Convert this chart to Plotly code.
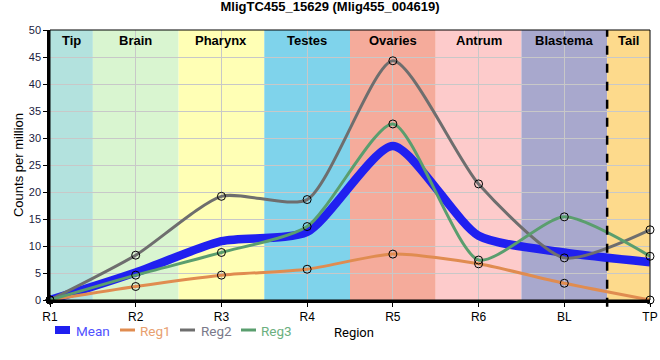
import plotly.graph_objects as go

regions = ["R1", "R2", "R3", "R4", "R5", "R6", "BL", "TP"]
mean_vals = [0.0, 5.1, 10.9, 12.6, 28.5, 11.9, 8.8, 7.0]
reg1 = [0.0, 2.5, 4.6, 5.7, 8.5, 6.7, 3.1, 0.0]
reg2 = [0.0, 8.3, 19.2, 18.6, 44.3, 21.5, 7.8, 13.0]
reg3 = [0.0, 4.6, 8.8, 13.6, 32.6, 7.4, 15.4, 8.1]

band_names = ["Tip", "Brain", "Pharynx", "Testes", "Ovaries", "Antrum", "Blastema", "Tail"]
band_starts = [0, 0.5, 1.5, 2.5, 3.5, 4.5, 5.5, 6.5]
band_ends = [0.5, 1.5, 2.5, 3.5, 4.5, 5.5, 6.5, 7]
band_colors = ["#B3E2DE", "#D9F5D0", "#FFFFB5", "#7FD3EB", "#F5AB9B", "#FDCBCB", "#A8A8CD", "#FDDA8C"]

xs = list(range(len(regions)))
FONT = "Liberation Sans, Arial, sans-serif"
LFONT = "Roboto, sans-serif"

# plot area in pixels
L, R, T, B = 50, 10, 30, 60
W, H = 660, 360
PW, PH = W - L - R, H - T - B


def px(xp):
    return (xp - L) / PW


def py(yp):
    return (H - B - yp) / PH


fig = go.Figure()

SMOOTH = 0.65
fig.add_trace(go.Scatter(
    x=xs, y=mean_vals, mode="lines", name="Mean", showlegend=False,
    line=dict(color="#2020F0", width=8.5, shape="spline", smoothing=SMOOTH),
    cliponaxis=False,
))

series = [
    ("Reg1", reg1, "#E08C50"),
    ("Reg2", reg2, "#6E6E6E"),
    ("Reg3", reg3, "#5A9E6E"),
]
for name, vals, col in series:
    fig.add_trace(go.Scatter(
        x=xs, y=vals, mode="lines+markers", name=name, showlegend=False,
        line=dict(color=col, width=3, shape="spline", smoothing=SMOOTH),
        marker=dict(size=8, color="rgba(0,0,0,0)", line=dict(color="black", width=1)),
        cliponaxis=False,
    ))

shapes = []
for s, e, c in zip(band_starts, band_ends, band_colors):
    shapes.append(dict(type="rect", xref="x", yref="paper", x0=s, x1=e, y0=0, y1=1,
                       fillcolor=c, line=dict(width=0), layer="below"))
shapes.append(dict(type="line", xref="x", yref="paper", x0=6.5, x1=6.5, y0=-0.025, y1=1,
                   line=dict(color="black", width=2.5, dash="dash"), layer="above"))
shapes.append(dict(type="rect", xref="paper", yref="paper", x0=0, x1=1, y0=0, y1=1,
                   line=dict(color="black", width=1), layer="above"))

annotations = []
for s, e, n in zip(band_starts, band_ends, band_names):
    annotations.append(dict(x=(s + e) / 2, y=1, xref="x", yref="paper", text=f"<b>{n}</b>",
                            showarrow=False, yanchor="top", yshift=-1,
                            font=dict(family=FONT, size=13, color="black")))

# manual legend
legend_items = [
    ("Mean", "#2020F0", "#5050FF", 8, 55, 70, 74),
    ("Reg1", "#E08C50", "#E8A070", 3, 120, 135, 138),
    ("Reg2", "#6E6E6E", "#7A7A8A", 3, 180, 195, 199),
    ("Reg3", "#5A9E6E", "#6CB080", 3, 241, 256, 259),
]
LY = 331
for name, col, tcol, wd, x0, x1, xt in legend_items:
    shapes.append(dict(type="line", xref="paper", yref="paper", x0=px(x0), x1=px(x1),
                       y0=py(LY - 1), y1=py(LY - 1), line=dict(color=col, width=wd)))
    annotations.append(dict(x=px(xt), y=py(LY), xref="paper", yref="paper", text=name,
                            showarrow=False, xanchor="left", yanchor="middle",
                            font=dict(family=LFONT, size=13.5, color=tcol)))
annotations.append(dict(x=px(332), y=py(332), xref="paper", yref="paper", text="Region",
                        showarrow=False, xanchor="left", yanchor="middle",
                        font=dict(family=LFONT, size=13, color="black")))

fig.update_layout(
    width=W, height=H,
    margin=dict(l=L, r=R, t=T, b=B, autoexpand=False),
    paper_bgcolor="white", plot_bgcolor="white",
    title=dict(text="<b>MligTC455_15629 (Mlig455_004619)</b>", x=0.5, xref="container",
               y=1, yref="container", yanchor="top", pad=dict(t=2),
               font=dict(family=FONT, size=13, color="black")),
    shapes=shapes, annotations=annotations,
    showlegend=False,
    xaxis=dict(range=[0, 7], tickvals=xs, ticktext=regions, showgrid=True, gridcolor="#C8C8C8",
               gridwidth=1, showline=True, linecolor="black", linewidth=2.5, ticks="outside",
               ticklen=4, tickcolor="black", zeroline=False, automargin=False,
               tickfont=dict(family=FONT, size=12, color="black")),
    yaxis=dict(range=[0, 50], dtick=5, showgrid=True, gridcolor="#C8C8C8", gridwidth=1,
               showline=True, linecolor="black", linewidth=2.5, ticks="outside", ticklen=4,
               tickcolor="black", zeroline=False, automargin=False,
               title=dict(text="Counts per million", standoff=3,
                          font=dict(family=FONT, size=13, color="black")),
               tickfont=dict(family=FONT, size=11, color="#1a1a40")),
)

fig.write_html("out.html", config={"displayModeBar": False},
               post_script="document.body.style.margin='0';document.body.style.padding='0';")
